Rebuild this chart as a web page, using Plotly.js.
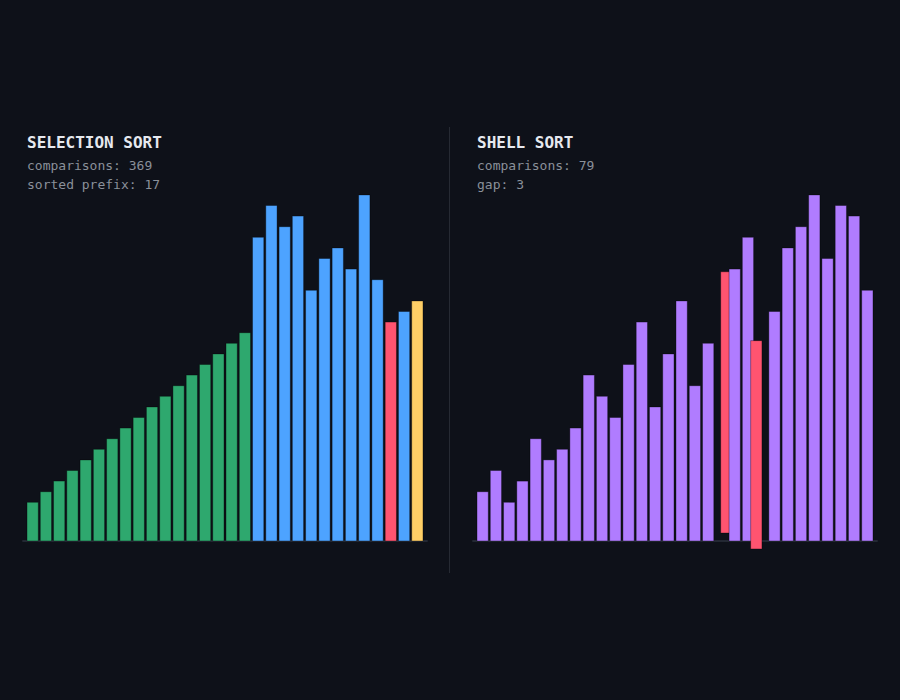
<!DOCTYPE html>
<html>
<head>
<meta charset="utf-8">
<script src="https://cdn.plot.ly/plotly-3.0.1.min.js"></script>
<style>
  html, body { margin: 0; padding: 0; background: #0e1119; }
  #chart { width: 900px; height: 700px; }
</style>
</head>
<body>
<div id="chart"></div>
<script>
// ---- data ----
const selectionValues = [1, 2, 3, 4, 5, 6, 7, 8, 9, 10, 11, 12, 13, 14, 15, 16, 17,
                         26, 29, 27, 28, 21, 24, 25, 23, 30, 22, 18, 19, 20];
const selectionSortedPrefix = 17;
const selectionMinIndex = 27;
const selectionScanIndex = 29;
const selectionComparisons = 369;

const shellValues = [2, 4, 1, 3, 7, 5, 6, 8, 13, 11, 9, 14, 18, 10, 15, 20, 12, 16,
                     22, 23, 26, 17, 19, 25, 27, 30, 24, 29, 28, 21];
const shellSwapPair = [18, 21];
const shellSwapProgress = 0.37;
const shellComparisons = 79;
const shellGap = 3;

// ---- style ----
const BG = '#0e1119';
const C_SORTED = '#2ea86e';
const C_BLUE = '#4da3ff';
const C_RED = '#ff5470';
const C_YELLOW = '#ffcf66';
const C_PURPLE = '#b07cff';
const PAD = 2.65;     // visual minimum bar height (value units)
const LIFT = 0.75;    // vertical arc offset during swap (value units)
const MONO = '"DejaVu Sans Mono", "Liberation Mono", monospace';

const idx = selectionValues.map((_, i) => i);

// selection sort trace
const selColors = selectionValues.map((v, i) =>
  i < selectionSortedPrefix ? C_SORTED :
  i === selectionMinIndex ? C_RED :
  i === selectionScanIndex ? C_YELLOW : C_BLUE);

const selTrace = {
  type: 'bar', xaxis: 'x', yaxis: 'y',
  x: idx,
  y: selectionValues.map(v => v + PAD),
  base: selectionValues.map(() => -PAD),
  width: 0.85,
  marker: { color: selColors, line: { color: 'rgba(0,0,0,0.35)', width: 1 } },
  hoverinfo: 'skip'
};

// shell sort trace (swap in progress)
const shX = shellValues.map((v, i) => {
  if (i === shellSwapPair[0]) return i + shellSwapProgress;
  if (i === shellSwapPair[1]) return i - shellSwapProgress;
  return i;
});
const shBase = shellValues.map((v, i) => {
  if (i === shellSwapPair[0]) return -PAD + LIFT;
  if (i === shellSwapPair[1]) return -PAD - LIFT;
  return -PAD;
});
const shColors = shellValues.map((v, i) => shellSwapPair.includes(i) ? C_RED : C_PURPLE);

const shellTrace = {
  type: 'bar', xaxis: 'x2', yaxis: 'y2',
  x: shX,
  y: shellValues.map(v => v + PAD),
  base: shBase,
  width: 0.85,
  marker: { color: shColors, line: { color: 'rgba(0,0,0,0.35)', width: 1 } },
  hoverinfo: 'skip'
};

const W = 900, H = 700;
const px = x => x / W;
const py = y => (H - y) / H;

const axX = (dom) => ({
  domain: dom, range: [-0.78, 29.78], showgrid: false, zeroline: false,
  showticklabels: false, ticks: '', showline: false, fixedrange: true
});
const axY = {
  domain: [py(550), py(184.3)], range: [-3.5, 31], showgrid: false, zeroline: false,
  showticklabels: false, ticks: '', showline: false, fixedrange: true
};

const layout = {
  width: W, height: H,
  paper_bgcolor: BG, plot_bgcolor: BG,
  margin: { l: 0, r: 0, t: 0, b: 0 },
  showlegend: false,
  barmode: 'overlay',
  xaxis: axX([px(22.3), px(427.7)]),
  yaxis: Object.assign({}, axY),
  xaxis2: Object.assign(axX([px(472.3), px(877.7)]), { anchor: 'y2' }),
  yaxis2: Object.assign({}, axY, { anchor: 'x2' }),
  shapes: [
    { type: 'line', xref: 'x domain', yref: 'y', x0: 0, x1: 1, y0: -PAD, y1: -PAD,
      line: { color: '#232833', width: 2 }, layer: 'below' },
    { type: 'line', xref: 'x2 domain', yref: 'y2', x0: 0, x1: 1, y0: -PAD, y1: -PAD,
      line: { color: '#232833', width: 2 }, layer: 'below' },
    { type: 'line', xref: 'paper', yref: 'paper', x0: px(449.5), x1: px(449.5),
      y0: py(127), y1: py(573), line: { color: '#262a33', width: 1 } }
  ],
  annotations: [
    { text: '<b>SELECTION SORT</b>', x: px(25), y: py(142), xref: 'paper', yref: 'paper',
      xanchor: 'left', yanchor: 'middle', showarrow: false,
      font: { family: MONO, size: 16, color: '#e6e9ef' } },
    { text: 'comparisons: ' + selectionComparisons, x: px(25), y: py(165.5), xref: 'paper', yref: 'paper',
      xanchor: 'left', yanchor: 'middle', showarrow: false,
      font: { family: MONO, size: 13, color: '#8a9099' } },
    { text: 'sorted prefix: ' + selectionSortedPrefix, x: px(25), y: py(184.5), xref: 'paper', yref: 'paper',
      xanchor: 'left', yanchor: 'middle', showarrow: false,
      font: { family: MONO, size: 13, color: '#8a9099' } },
    { text: '<b>SHELL SORT</b>', x: px(475), y: py(142), xref: 'paper', yref: 'paper',
      xanchor: 'left', yanchor: 'middle', showarrow: false,
      font: { family: MONO, size: 16, color: '#e6e9ef' } },
    { text: 'comparisons: ' + shellComparisons, x: px(475), y: py(165.5), xref: 'paper', yref: 'paper',
      xanchor: 'left', yanchor: 'middle', showarrow: false,
      font: { family: MONO, size: 13, color: '#8a9099' } },
    { text: 'gap: ' + shellGap, x: px(475), y: py(184.5), xref: 'paper', yref: 'paper',
      xanchor: 'left', yanchor: 'middle', showarrow: false,
      font: { family: MONO, size: 13, color: '#8a9099' } }
  ]
};

Plotly.newPlot('chart', [selTrace, shellTrace], layout, { displayModeBar: false, staticPlot: true });
</script>
</body>
</html>
